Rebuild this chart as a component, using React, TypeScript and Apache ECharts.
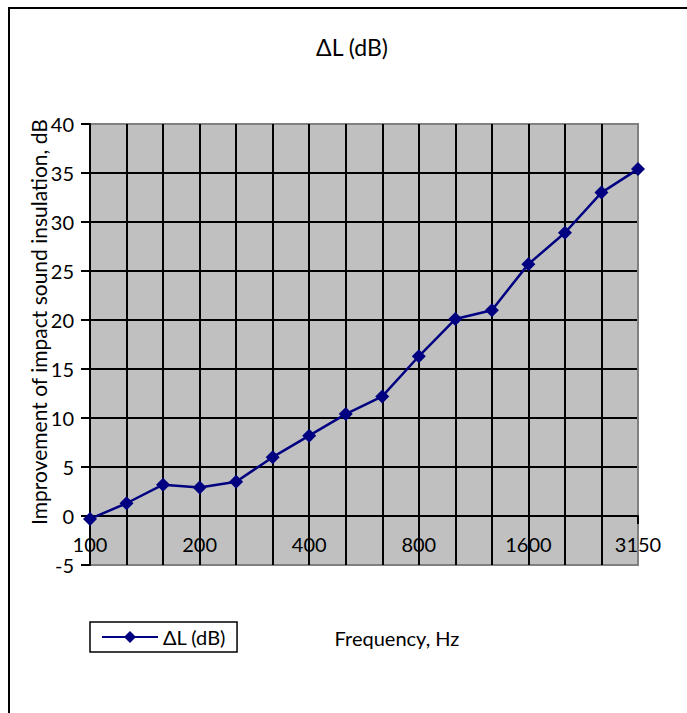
import React, { useEffect, useRef } from "react";
import * as echarts from "echarts";

const categories = ["100", "125", "160", "200", "250", "315", "400", "500", "630", "800", "1000", "1250", "1600", "2000", "2500", "3150"];
const deltaL = [-0.3, 1.3, 3.2, 2.9, 3.5, 6.0, 8.2, 10.4, 12.2, 16.3, 20.1, 21.0, 25.7, 28.9, 33.0, 35.4];
const seriesName = "ΔL (dB)";
const titleText = "ΔL (dB)";
const yAxisTitle = "Improvement of impact sound insulation, dB";
const xAxisTitle = "Frequency, Hz";

const FONT = "Lato, 'Open Sans', sans-serif";

export default function App() {
  const ref = useRef<HTMLDivElement>(null);
  useEffect(() => {
    if (!ref.current) return;
    const chart = echarts.init(ref.current, undefined, { renderer: "svg" });
    const ySplitColors = ["#808080", "#000", "#000", "#000", "#000", "#000", "#000", "#000", "#000", "#808080"];
    const xSplitColors = categories.map((_, i) => (i === categories.length - 1 ? "#808080" : "#000"));
    chart.setOption({
      animation: false,
      backgroundColor: "#fff",
      textStyle: { fontFamily: FONT },
      title: {
        text: titleText,
        left: 347,
        textAlign: "center",
        top: 30,
        textStyle: { fontSize: 23, fontWeight: "normal", color: "#000", fontFamily: FONT },
      },
      legend: {
        left: 90,
        top: 622,
        orient: "horizontal",
        borderColor: "#000",
        borderWidth: 1.5,
        borderRadius: 0,
        padding: [5, 11, 5, 11],
        itemWidth: 56,
        itemHeight: 15,
        itemGap: 6,
        textStyle: { fontSize: 20, color: "#000", fontFamily: FONT },
        data: [{ name: seriesName }],
      },
      grid: {
        left: 90,
        right: 49,
        top: 124,
        bottom: 148,
        show: true,
        backgroundColor: "#c0c0c0",
        borderColor: "#808080",
        borderWidth: 2,
        containLabel: false,
      },
      xAxis: {
        type: "category",
        data: categories,
        boundaryGap: false,
        axisLine: { show: true, onZero: true, lineStyle: { color: "#000", width: 2 } },
        axisTick: { show: true, interval: 0, length: 8, lineStyle: { color: "#000", width: 2 } },
        axisLabel: { interval: 2, fontSize: 20, color: "#000", margin: -31, fontFamily: FONT },
        splitLine: { show: true, interval: 0, lineStyle: { color: xSplitColors, width: 2 } },
      },
      yAxis: {
        type: "value",
        min: -5,
        max: 40,
        interval: 5,
        axisLine: { show: true, lineStyle: { color: "#000", width: 2 } },
        axisTick: { show: true, length: 9, lineStyle: { color: "#000", width: 2 } },
        axisLabel: { fontSize: 20, color: "#000", margin: 16, fontFamily: FONT },
        splitLine: { show: true, lineStyle: { color: ySplitColors, width: 2 } },
      },
      series: [
        {
          name: seriesName,
          type: "line",
          data: deltaL,
          symbol: "diamond",
          symbolSize: 14,
          lineStyle: { color: "#000080", width: 2.5 },
          itemStyle: { color: "#000080" },
          z: 5,
        },
      ],
      graphic: [
        {
          type: "rect",
          shape: { x: 9, y: 8, width: 720, height: 760 },
          style: { fill: "none", stroke: "#000", lineWidth: 2 },
          silent: true,
        },
        {
          type: "text",
          x: 38,
          y: 322,
          rotation: Math.PI / 2,
          style: {
            text: yAxisTitle,
            fontSize: 21,
            fill: "#000",
            fontFamily: FONT,
            textAlign: "center",
            textVerticalAlign: "middle",
          },
        },
        {
          type: "text",
          x: 397,
          y: 638,
          style: {
            text: xAxisTitle,
            fontSize: 20,
            fill: "#000",
            fontFamily: FONT,
            textAlign: "center",
            textVerticalAlign: "middle",
          },
        },
      ],
    });
    return () => chart.dispose();
  }, []);
  return <div ref={ref} style={{ position: "fixed", left: 0, top: 0, width: 687, height: 713 }} />;
}
